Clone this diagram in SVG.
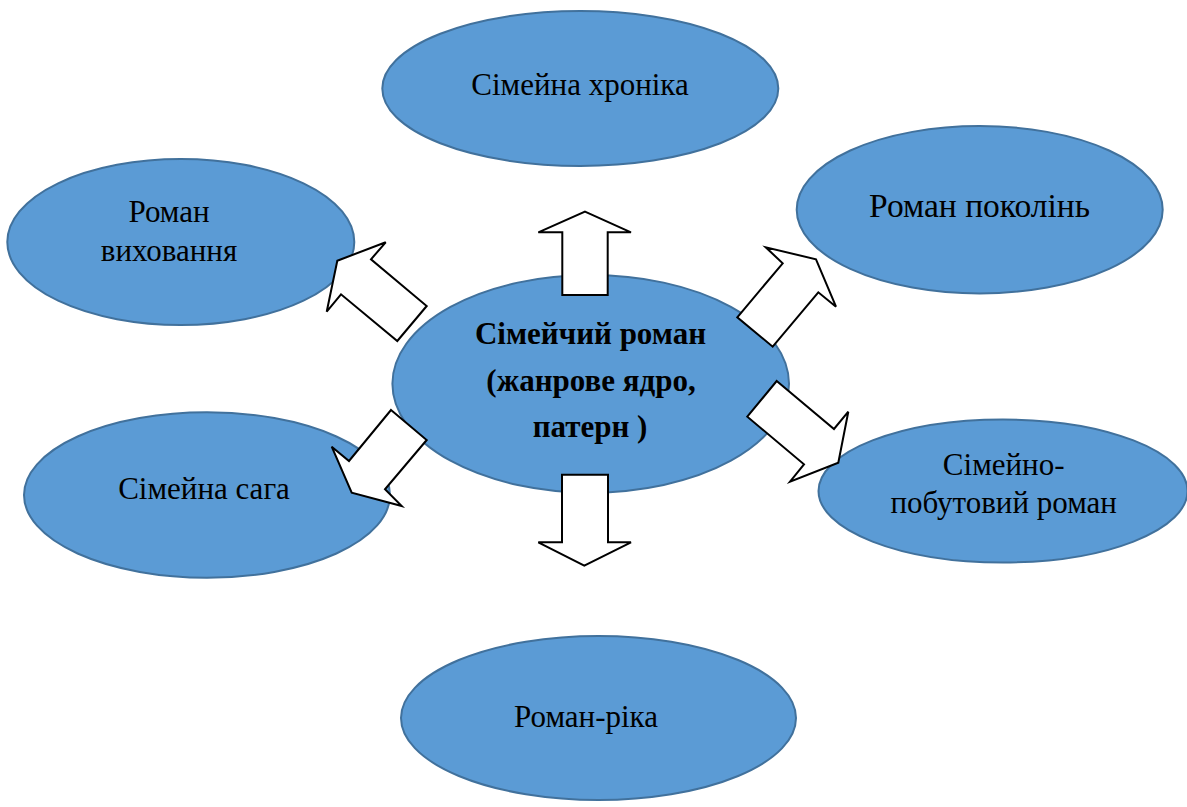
<svg xmlns="http://www.w3.org/2000/svg" width="1187" height="807" viewBox="0 0 1187 807">
<style>
.node ellipse{fill:#5B9BD5;stroke:#41719C;stroke-width:2}
.node text{font-family:"Liberation Serif","Times New Roman",serif;font-size:31px;fill:#000;text-anchor:middle}
.node text.b{font-weight:bold}
.node text.l{font-size:33.5px}
.arrow{fill:#fff;stroke:#000;stroke-width:2;stroke-linejoin:miter}
</style>
<rect width="1187" height="807" fill="#fff"/>
<g id="node-chronicle" class="node">
<ellipse cx="580.3" cy="88.5" rx="198" ry="77.5"/>
<text x="580" y="95">Сімейна хроніка</text>
</g>
<g id="node-generations" class="node">
<ellipse cx="979.7" cy="209.7" rx="183" ry="83.7"/>
<text class="l" x="979.5" y="216.7">Роман поколінь</text>
</g>
<g id="node-upbringing" class="node">
<ellipse cx="180.8" cy="242" rx="173.5" ry="83"/>
<text x="169" y="221.7">Роман</text>
<text x="169" y="261">виховання</text>
</g>
<g id="node-center" class="node">
<ellipse cx="590.7" cy="383.8" rx="198.3" ry="108.8"/>
<text class="b" x="590.5" y="344">Сімейчий роман</text>
<text class="b" x="591" y="391">(жанрове ядро,</text>
<text class="b" x="590" y="436.7">патерн )</text>
</g>
<g id="node-saga" class="node">
<ellipse cx="207" cy="495" rx="183" ry="82.7"/>
<text x="204" y="499.3">Сімейна сага</text>
</g>
<g id="node-domestic" class="node">
<ellipse cx="1003" cy="491" rx="184.5" ry="71.5"/>
<text x="1003.7" y="475">Сімейно-</text>
<text x="1003.7" y="513.3">побутовий роман</text>
</g>
<g id="node-river" class="node">
<ellipse cx="598.5" cy="718" rx="197.5" ry="82"/>
<text x="586" y="727">Роман-ріка</text>
</g>
<g id="connectors">
<polygon class="arrow" points="585,211.7 631,232.3 607.7,232.3 607.7,295 562.3,295 562.3,232.3 538.3,232.3"/>
<polygon class="arrow" points="562,474.7 608,474.7 608,542.3 631,542.3 584.3,565.7 538.3,542.3 562,542.3"/>
<polygon class="arrow" points="337.3,260.7 385.7,242.3 371,259.3 426.7,306 397.3,341 341,294.3 326.7,311.7"/>
<polygon class="arrow" points="816,259.3 836,306.7 818.3,292.3 772.7,346.7 737.3,317.3 782.7,263.3 765.7,247.3"/>
<polygon class="arrow" points="391,410 426.7,440 385,489.3 401.7,506 351.7,492.7 331.7,446.7 349,461"/>
<polygon class="arrow" points="776.7,381 834,429 848.3,411.7 838.3,462.7 790,481.7 804,464.3 747.3,416.7"/>
</g>
</svg>
